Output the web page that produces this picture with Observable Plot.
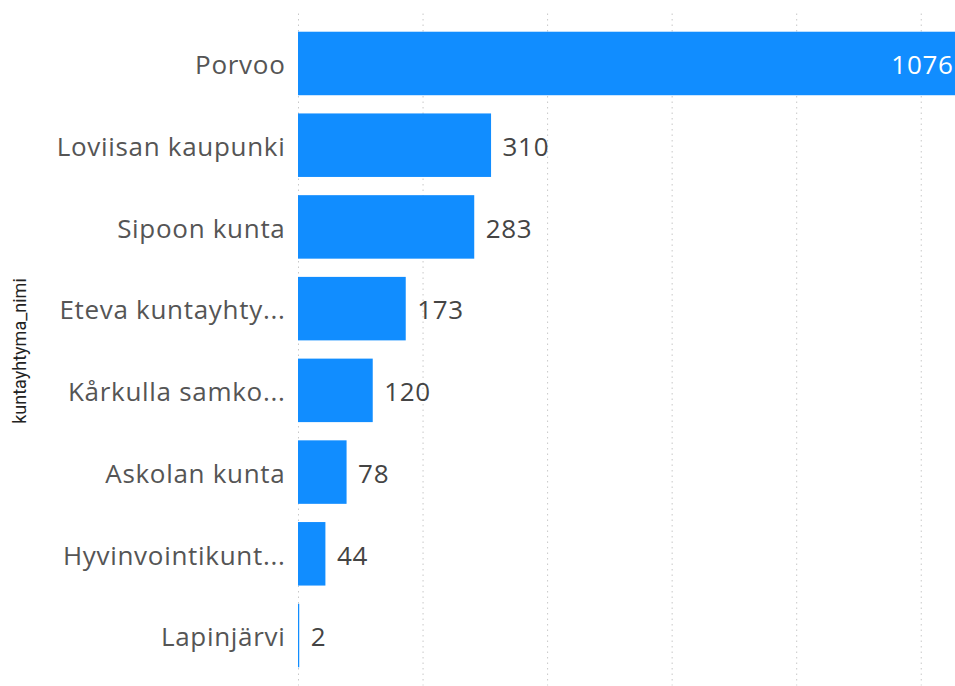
<!DOCTYPE html>
<html>
<head>
<meta charset="utf-8">
<script src="https://cdn.jsdelivr.net/npm/d3@7"></script>
<script src="https://cdn.jsdelivr.net/npm/@observablehq/plot@0.6"></script>
<style>
  html, body { margin: 0; padding: 0; background: #fff; }
  #chart { width: 955px; height: 686px; overflow: hidden; position: relative; }
  #chart svg text { letter-spacing: 0.7px; }
</style>
</head>
<body>
<div id="chart"></div>
<script>
const categories = ["Porvoo", "Loviisan kaupunki", "Sipoon kunta", "Eteva kuntayhty...", "Kårkulla samko...", "Askolan kunta", "Hyvinvointikunt...", "Lapinjärvi"];
const values = [1076, 310, 283, 173, 120, 78, 44, 2];
const gridTicks = [0, 200, 400, 600, 800, 1000];
const axisTitle = "kuntayhtyma_nimi";

const data = categories.map((c, i) => ({ name: c, value: values[i] }));
const font = "'Open Sans', 'Noto Sans', sans-serif";

const chart = Plot.plot({
  width: 955,
  height: 686,
  marginLeft: 298,
  marginRight: 0,
  marginTop: 13.5,
  marginBottom: 0.5,
  style: { fontFamily: font, background: "#fff" },
  x: { domain: [0, 1055], axis: null },
  y: { domain: categories, padding: 0.223, round: false, label: null },
  marks: [
    Plot.ruleX(gridTicks, { stroke: "#c8c8c8", strokeDasharray: "1.5,4", strokeWidth: 1 }),
    Plot.barX(data, { y: "name", x: "value", fill: "#118DFF", clip: true }),
    Plot.text(data.filter(d => d.value > 900), {
      y: "name", x: "value", text: d => String(d.value), textAnchor: "end", dx: -15, dy: 2,
      fill: "white", fontSize: 26, clip: true
    }),
    Plot.text(data.filter(d => d.value <= 900), {
      y: "name", x: "value", text: d => String(d.value), textAnchor: "start", dx: 11, dy: 2,
      fill: "#444", fontSize: 26
    }),
    Plot.axisY({ tickSize: 0, tickPadding: 13, dy: 2, fontSize: 26, color: "#555", label: null })
  ]
});

const wrap = document.getElementById("chart");
wrap.appendChild(chart);
const t = document.createElement("div");
t.textContent = axisTitle;
t.style.cssText = "position:absolute;left:19px;top:351px;transform:translate(-50%,-50%) rotate(-90deg);font-family:'Liberation Sans Narrow','Roboto','DejaVu Sans Condensed',sans-serif;font-size:18px;color:#222;white-space:nowrap;";
wrap.appendChild(t);
</script>
</body>
</html>
